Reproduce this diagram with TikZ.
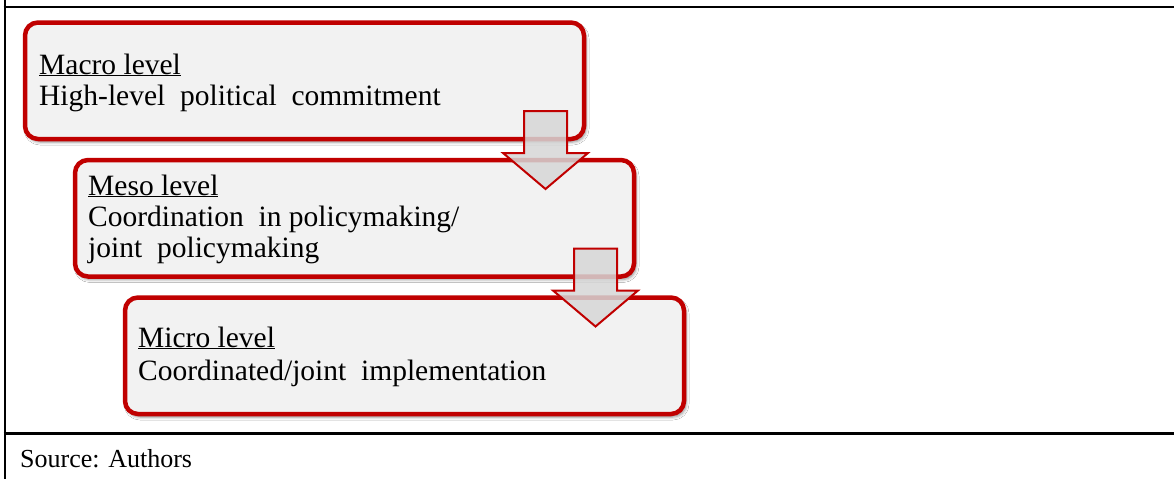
\documentclass[tikz,border=0pt]{standalone}
\usepackage{fontspec}
\setmainfont{Liberation Serif}
\usetikzlibrary{shadows.blur}
\definecolor{boxred}{HTML}{C00000}
\definecolor{boxfill}{HTML}{F2F2F2}
\definecolor{arrfill}{HTML}{D6D6D6}
\tikzset{
  levelbox/.style={draw=boxred, line width=4.5pt, fill=boxfill, rounded corners=13pt,
    minimum width=559pt, minimum height=116.5pt, inner sep=0pt, outer sep=0pt, anchor=north west,
    blur shadow={shadow xshift=2pt, shadow yshift=-3pt, shadow blur radius=3pt, shadow opacity=45}},
  downarrow/.style={draw=boxred, line width=2pt, fill=arrfill, fill opacity=0.85, line join=miter},
  bodytext/.style={anchor=base west, inner sep=0pt, font=\fontsize{29.5}{31}\selectfont},
  frame/.style={line width=2.6pt, black},
}
\begin{document}
\begin{tikzpicture}[x=1pt, y=-1pt]
\useasboundingbox (0,0) rectangle (1174,479);
\fill[white] (0,0) rectangle (1174,479);
% table frame
\coordinate (fl1) at (5,0);
\coordinate (fl2) at (5,479);
\coordinate (ft1) at (3.7,7);
\coordinate (ft2) at (1174,7);
\coordinate (fb1) at (3.7,433.5);
\coordinate (fb2) at (1174,433.5);
\draw[frame] (fl1) -- (fl2);
\draw[frame] (ft1) -- (ft2);
\draw[frame] (fb1) -- (fb2);
% boxes
\node[levelbox] (macro) at (25,22.5) {};
\node[levelbox] (meso) at (75,160) {};
\node[levelbox] (micro) at (125,297.5) {};
% texts
\node[bodytext] (macroT) at (39,74) {\underline{Macro\ level}};
\node[bodytext] (macroL) at (39,105) {High-level\ \ political\ \ commitment};
\node[bodytext] (mesoT) at (88,195) {\underline{Meso\ level}};
\node[bodytext] (mesoL1) at (88,226) {Coordination\ \ in\ policymaking/};
\node[bodytext] (mesoL2) at (88,257) {joint\ \ policymaking};
\node[bodytext] (microT) at (138,347) {\underline{Micro\ level}};
\node[bodytext] (microL) at (138,380) {Coordinated/joint\ \ implementation};
% arrows
\draw[downarrow] (524,111) -- (567,111) -- (567,153) -- (588,153) -- (545.5,189) -- (503,153) -- (524,153) -- cycle;
\draw[downarrow] (574,248.5) -- (617,248.5) -- (617,290.5) -- (638,290.5) -- (595.5,326.5) -- (553,290.5) -- (574,290.5) -- cycle;
% source
\node[anchor=base west, inner sep=0pt, font=\fontsize{26}{30}\selectfont] (src) at (20,467) {Source: Authors};
\end{tikzpicture}
\end{document}
